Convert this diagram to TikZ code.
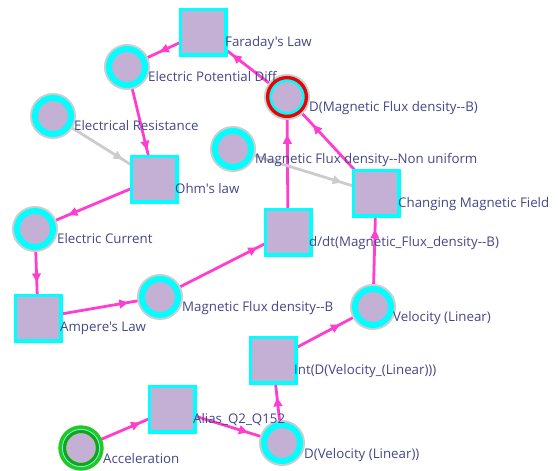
\documentclass[tikz,border=0pt]{standalone}
\usepackage{fontspec}
\setmainfont{Open Sans}[Ligatures=TeXOff]
\usetikzlibrary{arrows.meta,decorations.markings,backgrounds}

\definecolor{nodefill}{HTML}{C3B0D4}
\definecolor{ringcyan}{HTML}{00FFFF}
\definecolor{halo}{HTML}{CDCDCD}
\definecolor{linkpink}{HTML}{FF3DCF}
\definecolor{linkgray}{HTML}{CCCCCC}
\definecolor{labeltext}{HTML}{444788}
\definecolor{accgreen}{HTML}{22C922}
\definecolor{accdark}{HTML}{14A514}
\definecolor{focusred}{HTML}{F00000}

\tikzset{
  concept/.style={rectangle, minimum size=45.7pt, inner sep=0pt,
    draw=ringcyan, line width=3.3pt, fill=nodefill},
  quantity/.style={circle, minimum size=36pt, inner sep=0pt,
    draw=ringcyan, line width=6pt, fill=nodefill,
    preaction={draw=halo, line width=10pt}},
  startnode/.style={circle, minimum size=37.7pt, inner sep=0pt,
    draw=accgreen, line width=7.7pt, fill=nodefill},
  lbl/.style={anchor=base west, inner sep=0pt, text=labeltext,
    font=\fontsize{13.3}{15}\selectfont},
  tipmark/.style={postaction={decorate, decoration={markings,
    mark=at position #1 with {\arrow{Triangle[length=9pt,width=8.5pt]}}}}},
  flow/.style={color=linkpink, line width=2.8pt, tipmark=#1},
  assoc/.style={color=linkgray, line width=2.8pt, tipmark=#1},
}

\begin{document}
\begin{tikzpicture}[x=1pt, y=-1pt]
\useasboundingbox (0,0) rectangle (558,471);

% concept boxes
\node[concept] (far)   at (203,32)  {};
\node[concept] (ohm)   at (154,179) {};
\node[concept] (amp)   at (38,318)  {};
\node[concept] (ddt)   at (288,232) {};
\node[concept] (cmf)   at (376,193) {};
\node[concept] (intv)  at (273,360) {};
\node[concept] (alias) at (172,409) {};

% quantities
\node[quantity] (epd)  at (127,67)  {};
\node[quantity] (eres) at (53,116)  {};
\node[quantity] (cur)  at (35,229)  {};
\node[quantity] (mfb)  at (160,297) {};
\node[quantity] (mfnu) at (233,149) {};
\node[quantity] (dmfb) at (287,97)  {};
\node[quantity] (vel)  at (373,307) {};
\node[quantity] (dvel) at (282,443) {};
\node[startnode] (acc) at (81,448)  {};

% highlight rings
\draw[focusred, line width=3.3pt] (dmfb.center) circle[radius=19.4pt];
\draw[accdark, line width=3.4pt] (acc.center) circle[radius=16.7pt];
\draw[ringcyan!55!white, line width=0.8pt] (acc.center) circle[radius=18.6pt];

% labels
\node[lbl] (farL)   at ([shift={(22,14.5)}]far.center)   {Faraday's Law};
\node[lbl] (ohmL)   at ([shift={(21,14.5)}]ohm.center)   {Ohm's law};
\node[lbl] (ampL)   at ([shift={(22,13.5)}]amp.center)   {Ampere's Law};
\node[lbl] (ddtL)   at ([shift={(21,14.5)}]ddt.center)   {d/dt(Magnetic\_Flux\_density--B)};
\node[lbl] (cmfL)   at ([shift={(22,14.5)}]cmf.center)   {Changing Magnetic Field};
\node[lbl] (intvL)  at ([shift={(21,14.5)}]intv.center)  {Int(D(Velocity\_(Linear)))};
\node[lbl] (aliasL) at ([shift={(21,14.5)}]alias.center) {Alias\_Q2\_Q152};
\node[lbl] (epdL)   at ([shift={(21,14.5)}]epd.center)   {Electric Potential Diff};
\node[lbl] (eresL)  at ([shift={(21,14.5)}]eres.center)  {Electrical Resistance};
\node[lbl] (curL)   at ([shift={(22,14.5)}]cur.center)   {Electric Current};
\node[lbl] (mfbL)   at ([shift={(22,14.5)}]mfb.center)   {Magnetic Flux density--B};
\node[lbl] (mfnuL)  at ([shift={(22,14.5)}]mfnu.center)  {Magnetic Flux density--Non uniform};
\node[lbl] (dmfbL)  at ([shift={(22,14.5)}]dmfb.center)  {D(Magnetic Flux density--B)};
\node[lbl] (velL)   at ([shift={(20,14)}]vel.center)     {Velocity (Linear)};
\node[lbl] (dvelL)  at ([shift={(22,15)}]dvel.center)    {D(Velocity (Linear))};
\node[lbl] (accL)   at ([shift={(22,15)}]acc.center)     {Acceleration};

% connectors behind the nodes
\begin{pgfonlayer}{background}
\draw[flow=0.57]  (far.center)   -- (epd.center);
\draw[flow=0.65]  (dmfb.center)  -- (far.center);
\draw[flow=0.74]  (epd.center)   -- (ohm.center);
\draw[assoc=0.69] (eres.center)  -- (ohm.center);
\draw[flow=0.72]  (ohm.center)   -- (cur.center);
\draw[flow=0.60]  (cur.center)   -- (amp.center);
\draw[flow=0.74]  (amp.center)   -- (mfb.center);
\draw[flow=0.76]  (mfb.center)   -- (ddt.center);
\draw[flow=0.72]  (ddt.center)   -- (dmfb.center);
\draw[flow=0.71]  (cmf.center)   -- (dmfb.center);
\draw[assoc=0.76] (mfnu.center)  -- (cmf.center);
\draw[flow=0.68]  (vel.center)   -- (cmf.center);
\draw[flow=0.67]  (intv.center)  -- (vel.center);
\draw[flow=0.55]  (dvel.center)  -- (intv.center);
\draw[flow=0.69]  (alias.center) -- (dvel.center);
\draw[flow=0.65]  (acc.center)   -- (alias.center);
\end{pgfonlayer}
\end{tikzpicture}
\end{document}
